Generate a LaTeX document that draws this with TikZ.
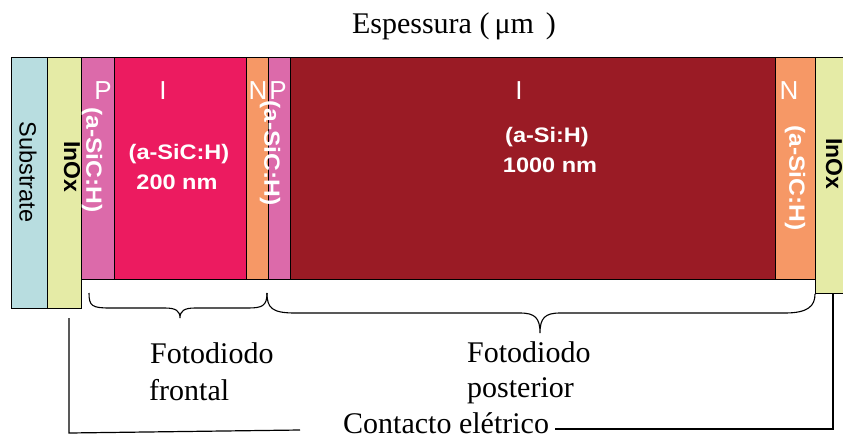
\documentclass[tikz,border=0pt]{standalone}
\usepackage{fontspec}
\setmainfont{Liberation Serif}
\newfontfamily\arial{Liberation Sans}
\newfontfamily\arialw[FakeStretch=1.12]{Liberation Sans}
\definecolor{csub}{HTML}{B8DDE0}
\definecolor{cinox}{HTML}{E5EBA6}
\definecolor{cpink}{HTML}{DC6AAA}
\definecolor{cmag}{HTML}{EC1B60}
\definecolor{corange}{HTML}{F69866}
\definecolor{cdark}{HTML}{9A1B25}
\tikzset{
  layer/.style={draw=black, line width=1pt, inner sep=0pt, outer sep=0pt, anchor=north west},
  wlab/.style={text=white, font=\arial\fontsize{26}{28}\selectfont, inner sep=0pt},
  wbold/.style={text=white, font=\arialw\bfseries\fontsize{21}{24}\selectfont, inner sep=0pt},
  wrot/.style={text=white, font=\arialw\bfseries\fontsize{22}{24}\selectfont, inner sep=0pt, rotate=-90},
  ksub/.style={text=black, font=\arial\fontsize{23.5}{26}\selectfont, inner sep=0pt, rotate=-90},
  krot/.style={text=black, font=\arial\bfseries\fontsize{23}{26}\selectfont, inner sep=0pt, rotate=-90},
  serif/.style={font=\fontsize{30}{36}\selectfont, inner sep=0pt, anchor=base west},
  brace/.style={draw=black, line width=1.1pt},
  wire/.style={draw=black, line width=1.2pt}
}
\begin{document}
\begin{tikzpicture}[x=1pt,y=-1pt]
\useasboundingbox (0,0) rectangle (843,437);
% layers
\node[layer, fill=csub, minimum width=36pt, minimum height=251pt] (sub) at (11,57) {};
\node[layer, fill=cinox, minimum width=34pt, minimum height=251pt] (inoxl) at (47,57) {};
\node[layer, fill=cpink, minimum width=33pt, minimum height=222pt] (p1) at (81,57) {};
\node[layer, fill=cmag, minimum width=132pt, minimum height=222pt] (i1) at (114,57) {};
\node[layer, fill=corange, minimum width=22pt, minimum height=222pt] (n1) at (246,57) {};
\node[layer, fill=cpink, minimum width=22pt, minimum height=222pt] (p2) at (268,57) {};
\node[layer, fill=cdark, minimum width=485pt, minimum height=222pt] (i2) at (290,57) {};
\node[layer, fill=corange, minimum width=40pt, minimum height=222pt] (n2) at (775,57) {};
\node[layer, fill=cinox, minimum width=30pt, minimum height=236pt] (inoxr) at (815,57) {};
% labels
\node[ksub] (tsub) at (28,172) {Substrate};
\node[krot] (tinl) at (72,167) {InOx};
\node[krot] (tinr) at (834,164) {InOx};
\node[wlab] (tp1) at (103,91) {P};
\node[wlab] (ti1) at (163,91) {I};
\node[wlab] (tn1) at (258,91) {N};
\node[wlab] (tp2) at (278,91) {P};
\node[wlab] (ti2) at (519,91) {I};
\node[wlab] (tn2) at (789,91) {N};
\node[wrot] (rp1) at (92,160) {(a-SiC:H)};
\node[wrot] (rnp) at (270,153) {(a-SiC:H)};
\node[wrot] (rn2) at (795,178) {(a-SiC:H)};
\node[wbold] (d1a) at (179,154) {(a-SiC:H)};
\node[wbold] (d1b) at (177,182) {200 nm};
\node[wbold] (d2a) at (547,137) {(a-Si:H)};
\node[wbold] (d2b) at (550,165) {1000 nm};
\node[font=\fontsize{30}{34}\selectfont, inner sep=0pt, anchor=base] (title) at (454,33) {Espessura (\,μm\hspace{12pt})};
% braces
\coordinate (b1s) at (89,293);
\coordinate (b1e) at (267,293);
\coordinate (b1t) at (180,318);
\coordinate (b2e) at (815,294);
\coordinate (b2t) at (540,333);
\draw[brace] (b1s) .. controls (89,306) and (92,308) .. (110,308) -- (165,308)
  .. controls (176,308) and (180,311) .. (b1t)
  .. controls (180,311) and (184,308) .. (195,308) -- (248,308)
  .. controls (262,308) and (267,306) .. (b1e);
\draw[brace] (b1e) .. controls (267,308) and (272,313) .. (295,313) -- (520,313)
  .. controls (535,313) and (540,318) .. (b2t)
  .. controls (540,318) and (545,313) .. (560,313) -- (785,313)
  .. controls (808,313) and (815,306) .. (b2e);
% text below
\node[serif] (ff1) at (150,363) {Fotodiodo};
\node[serif] (ff2) at (149,400) {frontal};
\node[serif] (fp1) at (467,362) {Fotodiodo};
\node[serif] (fp2) at (467,397) {posterior};
\node[serif] (ce) at (343,433) {Contacto elétrico};
% contact wires
\coordinate (cl1) at (69,318);
\coordinate (cl2) at (69,433);
\coordinate (cl3) at (300,430);
\coordinate (cr1) at (833,293);
\coordinate (cr2) at (833,429);
\coordinate (cr3) at (555,429);
\draw[wire] (cl1) -- (cl2) -- (cl3);
\draw[wire] (cr1) -- (cr2) -- (cr3);
\end{tikzpicture}
\end{document}
